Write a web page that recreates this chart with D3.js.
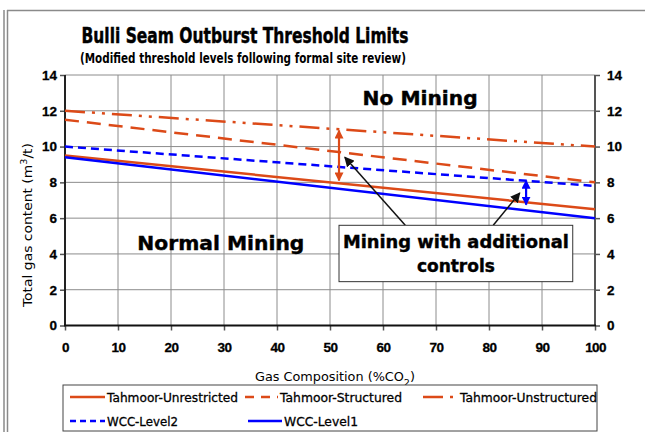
<!DOCTYPE html>
<html><head><meta charset="utf-8">
<script src="https://cdn.jsdelivr.net/npm/d3@7"></script>
<style>body{margin:0;background:#fff}svg{display:block}</style>
</head><body><svg id="c" width="645" height="432"></svg>
<script>
// ---- data ----
const xValues = [0, 100];
const tahmoorUnrestricted = [9.5, 6.5];
const tahmoorStructured = [11.5, 8];
const tahmoorUnstructured = [12, 10];
const wccLevel2 = [10, 7.8];
const wccLevel1 = [9.4, 6];
const xTicks = [0,10,20,30,40,50,60,70,80,90,100];
const yTicks = [0,2,4,6,8,10,12,14];
const seriesNames = ["Tahmoor-Unrestricted","Tahmoor-Structured","Tahmoor-Unstructured","WCC-Level2","WCC-Level1"];
// annotation positions (data units)
const orangeArrow = [51.7, 10.9, 8.1];
const blueArrow = [87, 8.1, 6.75];
const leader1 = [[64.2, 5.6], [52.8, 9.4]];
const leader2 = [[80.8, 5.6], [85.8, 7.4]];
const calloutBox = [51.7, 95.8, 5.6, 2.45];

const ORANGE = "#DC4A18", BLUE = "#0000FF";
const styles = [
  {c:ORANGE, d:null},
  {c:ORANGE, d:"14,8"},
  {c:ORANGE, d:"20,7,3,7,3,7"},
  {c:BLUE, d:"8,5"},
  {c:BLUE, d:null}
];
const seriesData = [tahmoorUnrestricted, tahmoorStructured, tahmoorUnstructured, wccLevel2, wccLevel1];

const svg = d3.select("#c");
const x = d3.scaleLinear().domain([0,100]).range([65,595]);
const y = d3.scaleLinear().domain([0,14]).range([325.5,75]);
const F = "'Liberation Sans', Arial, sans-serif";
const DJ = "'DejaVu Sans', Verdana, sans-serif";

// outer frame
svg.append("line").attr("x1",4).attr("x2",4).attr("y1",10).attr("y2",432).attr("stroke","#8a8a8a").attr("stroke-width",1.5);
svg.append("line").attr("x1",7.5).attr("x2",7.5).attr("y1",10).attr("y2",432).attr("stroke","#8a8a8a").attr("stroke-width",1.5);
svg.append("line").attr("x1",7).attr("x2",645).attr("y1",10.5).attr("y2",10.5).attr("stroke","#8a8a8a").attr("stroke-width",1.5);

// titles
svg.append("text").attr("x",245).attr("y",43).attr("text-anchor","middle")
  .attr("font-family",DJ).attr("font-weight","bold").attr("font-size",22)
  .attr("stroke","#000").attr("stroke-width",0.5)
  .attr("textLength",327).attr("lengthAdjust","spacingAndGlyphs")
  .text("Bulli Seam Outburst Threshold Limits");
svg.append("text").attr("x",243).attr("y",63).attr("text-anchor","middle")
  .attr("font-family",DJ).attr("font-weight","bold").attr("font-size",14.5)
  .attr("textLength",326).attr("lengthAdjust","spacingAndGlyphs")
  .text("(Modified threshold levels following formal site review)");

// grid
svg.append("g").selectAll("line").data(yTicks).join("line")
  .attr("x1",x(0)).attr("x2",x(100)).attr("y1",d=>y(d)).attr("y2",d=>y(d))
  .attr("stroke","#8c8c8c").attr("stroke-width",1);
svg.append("g").selectAll("line").data(xTicks).join("line")
  .attr("x1",d=>x(d)).attr("x2",d=>x(d)).attr("y1",y(0)).attr("y2",y(14))
  .attr("stroke","#8c8c8c").attr("stroke-width",1);

// axes
const axL = svg.append("g").attr("transform",`translate(${x(0)},0)`)
  .call(d3.axisLeft(y).tickValues(yTicks).tickSize(5).tickPadding(3).tickFormat(d3.format("d")));
const axR = svg.append("g").attr("transform",`translate(${x(100)},0)`)
  .call(d3.axisRight(y).tickValues(yTicks).tickSize(5).tickPadding(7).tickFormat(d3.format("d")));
const axB = svg.append("g").attr("transform",`translate(0,${y(0)})`)
  .call(d3.axisBottom(x).tickValues(xTicks).tickSize(5).tickPadding(12).tickFormat(d3.format("d")));
[axL,axR,axB].forEach(a=>{
  a.select(".domain").remove();
  a.selectAll(".tick line").attr("stroke","#555").attr("stroke-width",1.5);
  a.selectAll("text").attr("font-family",F).attr("font-weight","bold").attr("font-size",13.5).attr("fill","#000")
    .attr("stroke","#000").attr("stroke-width",0.3);
});
axB.selectAll("text").attr("letter-spacing",-0.6);
// plot frame
svg.append("line").attr("x1",x(0)).attr("x2",x(0)).attr("y1",y(14)).attr("y2",y(0)).attr("stroke","#222").attr("stroke-width",2);
svg.append("line").attr("x1",x(100)).attr("x2",x(100)).attr("y1",y(14)).attr("y2",y(0)).attr("stroke","#555").attr("stroke-width",2);
svg.append("line").attr("x1",x(0)-1).attr("x2",x(100)+1).attr("y1",y(0)).attr("y2",y(0)).attr("stroke","#111").attr("stroke-width",2);

// axis titles
svg.append("text").attr("x",335).attr("y",381).attr("text-anchor","middle")
  .attr("font-family",DJ).attr("font-size",12).attr("textLength",160).attr("lengthAdjust","spacingAndGlyphs")
  .html('Gas Composition (%CO<tspan baseline-shift="sub" font-size="9">2</tspan>)');
svg.append("text").attr("transform","translate(32,225) rotate(-90)").attr("text-anchor","middle")
  .attr("font-family",DJ).attr("font-size",13).attr("textLength",164).attr("lengthAdjust","spacingAndGlyphs")
  .html('Total gas content (m<tspan baseline-shift="super" font-size="9">3</tspan>/t)');

// series
const line = d3.line().x(d=>x(d[0])).y(d=>y(d[1]));
seriesData.forEach((s,i)=>{
  svg.append("path").datum(xValues.map((xv,j)=>[xv,s[j]]))
    .attr("d",line).attr("fill","none").attr("stroke",styles[i].c)
    .attr("stroke-width",2.5).attr("stroke-dasharray",styles[i].d);
});

// markers
const defs = svg.append("defs");
function mk(id,color,size){
  defs.append("marker").attr("id",id).attr("viewBox","0 0 10 10").attr("refX",9).attr("refY",5)
    .attr("markerWidth",size).attr("markerHeight",size).attr("orient","auto-start-reverse")
    .attr("markerUnits","userSpaceOnUse")
    .append("path").attr("d","M0,0 L10,5 L0,10 Z").attr("fill",color);
}
mk("ao",ORANGE,9); mk("ab",BLUE,9); mk("ak","#111",10);

svg.append("line").attr("x1",x(orangeArrow[0])).attr("x2",x(orangeArrow[0]))
  .attr("y1",y(orangeArrow[1])).attr("y2",y(orangeArrow[2]))
  .attr("stroke",ORANGE).attr("stroke-width",2.2)
  .attr("marker-start","url(#ao)").attr("marker-end","url(#ao)");
svg.append("line").attr("x1",x(blueArrow[0])).attr("x2",x(blueArrow[0]))
  .attr("y1",y(blueArrow[1])).attr("y2",y(blueArrow[2]))
  .attr("stroke",BLUE).attr("stroke-width",2.2)
  .attr("marker-start","url(#ab)").attr("marker-end","url(#ab)");
[leader1,leader2].forEach(l=>{
  svg.append("line").attr("x1",x(l[0][0])).attr("y1",y(l[0][1]))
    .attr("x2",x(l[1][0])).attr("y2",y(l[1][1]))
    .attr("stroke","#111").attr("stroke-width",1.5).attr("marker-end","url(#ak)");
});

// callout box
svg.append("rect").attr("x",x(calloutBox[0])).attr("y",y(calloutBox[2]))
  .attr("width",x(calloutBox[1])-x(calloutBox[0])).attr("height",y(calloutBox[3])-y(calloutBox[2]))
  .attr("fill","#fff").attr("stroke","#333").attr("stroke-width",1);
const cx = (x(calloutBox[0])+x(calloutBox[1]))/2;
svg.append("text").attr("x",cx).attr("y",248).attr("text-anchor","middle")
  .attr("font-family",DJ).attr("font-weight","bold").attr("font-size",17)
  .attr("stroke","#000").attr("stroke-width",0.4)
  .attr("textLength",226).attr("lengthAdjust","spacingAndGlyphs").text("Mining with additional");
svg.append("text").attr("x",cx).attr("y",272).attr("text-anchor","middle")
  .attr("font-family",DJ).attr("font-weight","bold").attr("font-size",17)
  .attr("stroke","#000").attr("stroke-width",0.4).text("controls");

svg.append("text").attr("x",x(67)).attr("y",y(12.3)).attr("text-anchor","middle")
  .attr("font-family",DJ).attr("font-weight","bold").attr("font-size",19)
  .attr("stroke","#000").attr("stroke-width",0.4)
  .attr("textLength",115).attr("lengthAdjust","spacingAndGlyphs").text("No Mining");
svg.append("text").attr("x",x(29.4)).attr("y",y(4.2)).attr("text-anchor","middle")
  .attr("font-family",DJ).attr("font-weight","bold").attr("font-size",19)
  .attr("stroke","#000").attr("stroke-width",0.4)
  .attr("textLength",167).attr("lengthAdjust","spacingAndGlyphs").text("Normal Mining");

// legend
svg.append("rect").attr("x",63).attr("y",385).attr("width",534).attr("height",46)
  .attr("fill","#fff").attr("stroke","#444").attr("stroke-width",1);
const legPos = [[70,397,131],[245,397,122],[423,397,137],[70,421,71],[248,421,74]];
const legLineLen = [35,33,35,35,34];
seriesNames.forEach((n,i)=>{
  const [lx,ly,tl] = legPos[i];
  svg.append("line").attr("x1",lx).attr("x2",lx+legLineLen[i]).attr("y1",ly).attr("y2",ly)
    .attr("stroke",styles[i].c).attr("stroke-width",2.5)
    .attr("stroke-dasharray", i===1?"9,7": i===2?"20,7,3,7": i===3?"6,4": null);
  svg.append("text").attr("x",lx+legLineLen[i]+2).attr("y",ly+4.5)
    .attr("font-family",DJ).attr("font-size",13)
    .attr("stroke","#000").attr("stroke-width",0.3)
    .attr("textLength",tl).attr("lengthAdjust","spacingAndGlyphs").text(n);
});
</script></body></html>
